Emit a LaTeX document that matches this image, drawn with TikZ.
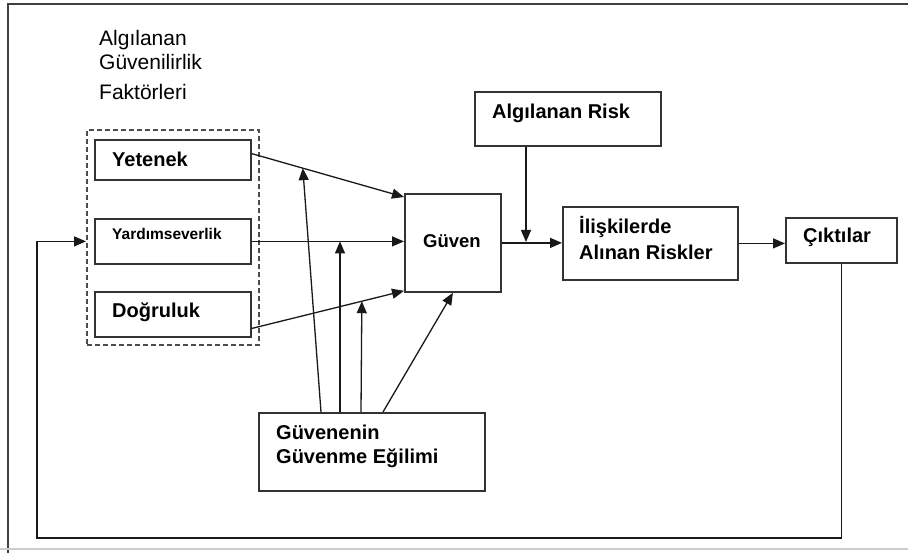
\documentclass[tikz,border=0pt]{standalone}
\usepackage{fontspec}
\setmainfont{Liberation Sans}
\usetikzlibrary{arrows.meta,calc}

\begin{document}
\begin{tikzpicture}[x=1pt,y=-1pt,
  box/.style={draw=black!80, line width=1.8pt, rectangle, inner sep=0pt, anchor=north west},
  grp/.style={draw=black!70, line width=1.6pt, dash pattern=on 5pt off 3pt, rectangle, inner sep=0pt, anchor=north west},
  lbl/.style={anchor=base west, inner sep=0pt, font=\bfseries\fontsize{20}{24}\selectfont},
  ttl/.style={anchor=base west, inner sep=0pt, font=\fontsize{21}{25}\selectfont},
  link/.style={draw=black!90, line width=1.3pt, -{Triangle[length=12pt,width=10pt]}},
  frame/.style={draw=black!75, line width=2.2pt}
]
% canvas and outer frame
\fill[white] (0,0) rectangle (908,553);
\useasboundingbox (0,0) rectangle (908,553);
\draw[frame] (8,553) -- (8,4) -- (908,4);
\draw[draw=black!20, line width=1.8pt] (0,549) -- (908,549);

% heading
\node[ttl] (h1) at (99,46) {Algılanan};
\node[ttl] (h2) at (99,70) {Güvenilirlik};
\node[ttl] (h3) at (99,100) {Faktörleri};

% boxes
\node[grp, minimum width=172pt, minimum height=215pt] (fac) at (86,129) {};
\node[box, minimum width=156pt, minimum height=40pt] (yet) at (94,139) {};
\node[box, minimum width=156pt, minimum height=45pt] (yar) at (94,218) {};
\node[box, minimum width=156pt, minimum height=45pt] (dog) at (94,291) {};
\node[box, minimum width=96pt, minimum height=98pt] (guv) at (404,193) {};
\node[box, minimum width=186pt, minimum height=54pt] (risk) at (474,91) {};
\node[box, minimum width=175pt, minimum height=73pt] (ilis) at (562,206) {};
\node[box, minimum width=111pt, minimum height=45pt] (cik) at (785,217) {};
\node[box, minimum width=226pt, minimum height=78pt] (egil) at (258,412) {};

% labels
\node[lbl] (lyet) at (112,167) {Yetenek};
\node[lbl, font=\bfseries\fontsize{15.5}{18}\selectfont] (lyar) at (112,240) {Yardımseverlik};
\node[lbl] (ldog) at (112,318) {Doğruluk};
\node[anchor=base, inner sep=0pt, font=\bfseries\fontsize{18.5}{22}\selectfont] (lguv) at (452,248) {Güven};
\node[lbl] (lrisk) at (492,119) {Algılanan Risk};
\node[lbl] (lil1) at (579,234) {İlişkilerde};
\node[lbl] (lil2) at (579,260) {Alınan Riskler};
\node[lbl] (lcik) at (803,243) {Çıktılar};
\node[lbl] (leg1) at (276,439) {Güvenenin};
\node[lbl] (leg2) at (276,463) {Güvenme Eğilimi};

% end points of the slanted factor links
\coordinate (ys) at ($(yet.north east)!0.35!(yet.south east)$);
\coordinate (ye) at ($(guv.north west)+(0,4)$);
\coordinate (ds) at ($(dog.north east)!0.8!(dog.south east)$);
\coordinate (de) at ($(guv.south west)+(0,-2)$);

% factors to trust
\draw[link] (ys) -- (ye);
\draw[link] (yar.east) -- (yar.east -| guv.west);
\draw[link] (ds) -- (de);

% trust to risk taking to outcomes
\coordinate (rj) at (526,242);
\draw[link] (guv.east) -- (guv.east -| ilis.west);
\draw[link] (risk.south -| rj) -- (rj);
\draw[link] (ilis.east) -- (ilis.east -| cik.west);

% feedback loop
\coordinate (fbl) at (37,538);
\draw[link] (cik.south) |- (fbl) |- (fac.west |- yar.east);

% propensity to trust moderating the factor links
\coordinate (e1) at ($(egil.north west)+(63,0)$);
\coordinate (e2) at ($(egil.north west)+(82,0)$);
\coordinate (e3) at ($(egil.north west)+(103,0)$);
\coordinate (e4) at ($(egil.north west)+(125,0)$);
\coordinate (m1) at ($(ys)!0.335!(ye)$);
\coordinate (m3) at ($(ds)!0.723!(de)$);
\draw[link] (e1) -- (m1);
\draw[link] (e2) -- (e2 |- yar.east);
\draw[link] (e3) -- (m3);
\draw[link] (e4) -- (guv.south);
\end{tikzpicture}
\end{document}
